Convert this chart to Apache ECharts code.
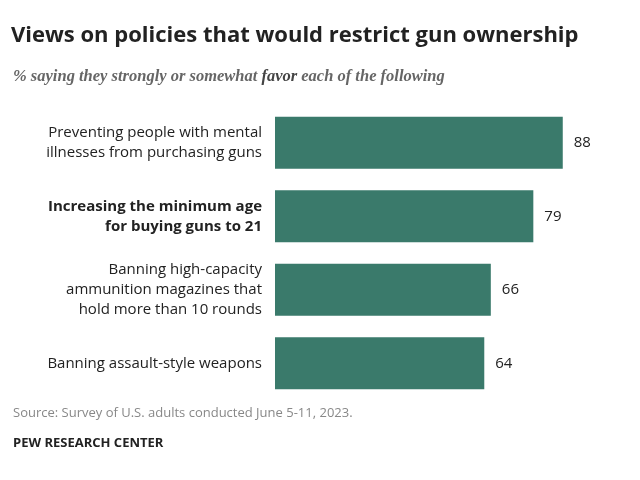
<!DOCTYPE html>
<html><head><meta charset="utf-8">
<script src="https://cdn.jsdelivr.net/npm/echarts@6/dist/echarts.min.js"></script>
<style>html,body{margin:0;padding:0;background:#fff}#c{width:640px;height:480px}</style>
</head><body><div id="c"></div>
<script>
const categories = [
  "Preventing people with mental\nillnesses from purchasing guns",
  "Increasing the minimum age\nfor buying guns to 21",
  "Banning high-capacity\nammunition magazines that\nhold more than 10 rounds",
  "Banning assault-style weapons"
];
const values = [88, 79, 66, 64];
const boldIndex = 1;

const chart = echarts.init(document.getElementById('c'));
chart.setOption({
  animation: false,
  textStyle: { fontFamily: '"Open Sans", sans-serif' },
  title: [
    { text: 'Views on policies that would restrict gun ownership', left: 6, top: 20,
      textStyle: { fontSize: 22, fontWeight: 'bold', color: '#222', fontFamily: '"Open Sans"' } },
    { text: '% saying they strongly or somewhat {b|favor} each of the following', left: 8, top: 63,
      textStyle: { fontSize: 16.5, fontStyle: 'italic', color: '#666', fontFamily: '"Liberation Serif", serif',
        rich: { b: { fontSize: 16.5, fontStyle: 'italic', fontWeight: 'bold', color: '#444', fontFamily: '"Liberation Serif", serif' } } } },
    { text: 'Source: Survey of U.S. adults conducted June 5-11, 2023.', left: 8, top: 402,
      textStyle: { fontSize: 13, fontWeight: 'normal', color: '#888', fontFamily: '"Open Sans"' } },
    { text: 'PEW RESEARCH CENTER', left: 8, top: 432,
      textStyle: { fontSize: 13, fontWeight: 'bold', color: '#222', fontFamily: '"Open Sans"' } }
  ],
  grid: { left: 275, top: 106, width: 327, height: 294 },
  xAxis: { type: 'value', min: 0, max: 100, show: false },
  yAxis: {
    type: 'category', inverse: true, data: categories,
    axisLine: { show: false }, axisTick: { show: false },
    axisLabel: {
      margin: 13, align: 'right', fontSize: 15, lineHeight: 20, color: '#222',
      formatter: (v, i) => v.split('\n').map(l => (i === boldIndex ? '{b|' : '{n|') + l + '}').join('\n'),
      rich: {
        n: { fontSize: 15, lineHeight: 20, color: '#222', align: 'right', fontFamily: '"Open Sans"' },
        b: { fontSize: 15, lineHeight: 20, color: '#222', fontWeight: 'bold', align: 'right', fontFamily: '"Open Sans"' }
      }
    }
  },
  series: [{
    type: 'bar', data: values, barWidth: 52,
    itemStyle: { color: '#3a7a6b' },
    label: { show: true, position: 'right', distance: 11, fontSize: 15, color: '#222', fontFamily: '"Open Sans"' }
  }]
});
</script></body></html>
